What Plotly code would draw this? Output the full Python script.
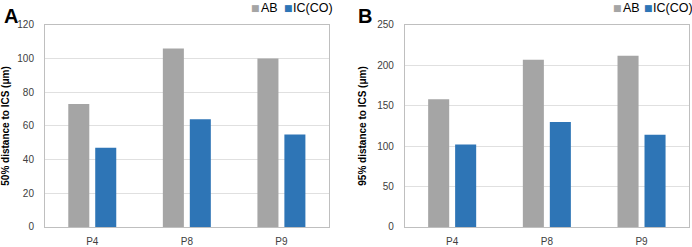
import plotly.graph_objects as go

categories = ["P4", "P8", "P9"]
ab_50 = [73, 106, 100]
ic_50 = [47, 64, 55]
ab_95 = [158, 207, 212]
ic_95 = [102, 130, 114]
series_names = ["AB", "IC(CO)"]

gray = "#A5A5A5"
blue = "#2E75B6"
font = "Liberation Sans, Arial, sans-serif"
W, H = 692, 247

fig = go.Figure()
fig.add_trace(go.Bar(x=categories, y=ab_50, name=series_names[0], marker_color=gray, xaxis="x", yaxis="y"))
fig.add_trace(go.Bar(x=categories, y=ic_50, name=series_names[1], marker_color=blue, xaxis="x", yaxis="y"))
fig.add_trace(go.Bar(x=categories, y=ab_95, name=series_names[0], marker_color=gray, xaxis="x2", yaxis="y2"))
fig.add_trace(go.Bar(x=categories, y=ic_95, name=series_names[1], marker_color=blue, xaxis="x2", yaxis="y2"))

axis_common = dict(showline=True, linecolor="#BFBFBF", linewidth=1, mirror=True,
                   tickfont=dict(family=font, size=10, color="#404040"), ticks="")
xax_common = dict(axis_common, showgrid=False, ticklabelstandoff=5, automargin=False)
yax_common = dict(axis_common, showgrid=True, gridcolor="#E0E0E0", gridwidth=1, zeroline=False,
                  ticklabelstandoff=8, automargin=True)

annotations = [
    dict(text="<b>A</b>", x=0.003, y=1 - 3 / H, xref="paper", yref="paper", xanchor="left", yanchor="top",
         showarrow=False, font=dict(family=font, size=20, color="#000")),
    dict(text="<b>B</b>", x=0.515, y=1 - 3 / H, xref="paper", yref="paper", xanchor="left", yanchor="top",
         showarrow=False, font=dict(family=font, size=20, color="#000")),
]
# legend entries (square + label) for each panel, left x in pixels
legend_items = [
    (249, 259, gray, series_names[0]), (282, 291, blue, series_names[1]),
    (611, 621, gray, series_names[0]), (642, 651, blue, series_names[1]),
]
for sq_x, tx_x, col, name in legend_items:
    annotations.append(dict(text="■", x=sq_x / W, y=1 - 7.5 / H, xref="paper", yref="paper",
                            xanchor="left", yanchor="middle", showarrow=False,
                            font=dict(family="DejaVu Sans", size=9, color=col)))
    annotations.append(dict(text=name, x=tx_x / W, y=1 - 7.5 / H, xref="paper", yref="paper",
                            xanchor="left", yanchor="middle", showarrow=False,
                            font=dict(family=font, size=12.5, color="#000")))

fig.update_layout(
    template="none",
    width=W, height=H,
    margin=dict(l=0, r=0, t=0, b=0, autoexpand=False),
    paper_bgcolor="white", plot_bgcolor="white",
    barmode="group", bargap=0.43, bargroupgap=0.22,
    showlegend=False,
    font=dict(family=font),
    xaxis=dict(xax_common, domain=[0.065, 0.475], anchor="y"),
    yaxis=dict(yax_common, domain=[0.081, 0.899], range=[0, 120], dtick=20, anchor="x",
               title=dict(text="<b>50% distance to ICS (μm)</b>", font=dict(family=font, size=10, color="#000"), standoff=8)),
    xaxis2=dict(xax_common, domain=[0.585, 0.9955], anchor="y2"),
    yaxis2=dict(yax_common, domain=[0.081, 0.899], range=[0, 250], dtick=50, anchor="x2",
                title=dict(text="<b>95% distance to ICS (μm)</b>", font=dict(family=font, size=10, color="#000"), standoff=8)),
    annotations=annotations,
)

fig.write_html("out.html", config={"displayModeBar": False},
               post_script="document.body.style.margin='0';document.body.style.overflow='hidden';")
